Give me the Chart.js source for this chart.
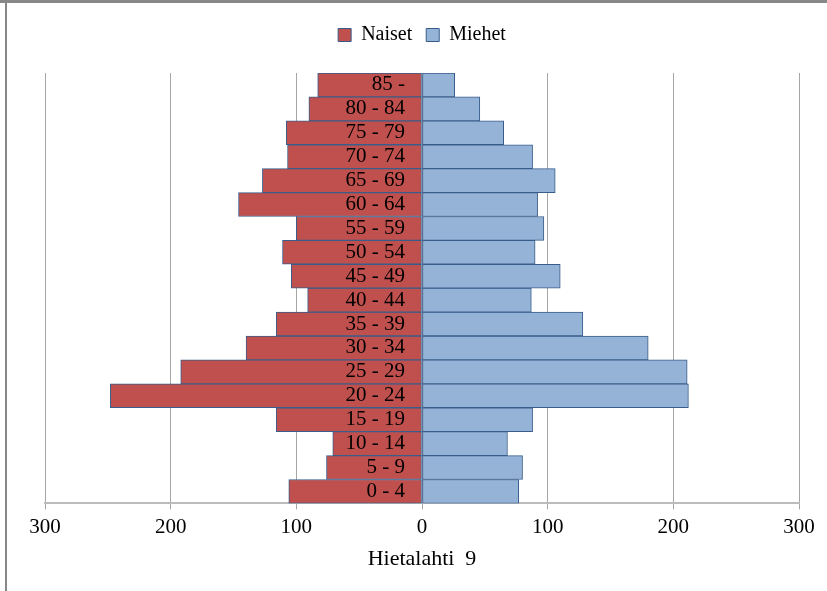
<!DOCTYPE html>
<html>
<head>
<meta charset="utf-8">
<script src="https://cdn.jsdelivr.net/npm/chart.js@4/dist/chart.umd.min.js"></script>
<style>
  html, body { margin: 0; padding: 0; background: #fff; }
  body { width: 827px; height: 591px; overflow: hidden; position: relative; }
  .frame-top { position: absolute; left: 0; top: 0; width: 827px; height: 3px; background: #888; }
  .frame-left { position: absolute; left: 5px; top: 0; width: 2px; height: 591px; background: #888; }
  #wrap { position: absolute; left: 7px; top: 3px; width: 820px; height: 588px; }
</style>
</head>
<body>
<div class="frame-top"></div>
<div class="frame-left"></div>
<div id="wrap"><canvas id="myChart"></canvas></div>
<script>
const ageGroups = ['0 - 4', '5 - 9', '10 - 14', '15 - 19', '20 - 24', '25 - 29', '30 - 34', '35 - 39',
  '40 - 44', '45 - 49', '50 - 54', '55 - 59', '60 - 64', '65 - 69', '70 - 74', '75 - 79', '80 - 84', '85 -'];
// women shown to the left, so the values are negated below
const naiset = [106, 76, 71, 116, 248, 192, 140, 116, 91, 104, 111, 100, 146, 127, 107, 108, 90, 83];
const miehet = [77, 80, 68, 88, 212, 211, 180, 128, 87, 110, 90, 97, 92, 106, 88, 65, 46, 26];
const xTicks = [-300, -200, -100, 0, 100, 200, 300];

const serif = '"Liberation Serif", "Times New Roman", serif';

// extra room between the legend and the plot
const legendGap = {
  id: 'legendGap',
  beforeInit(chart) {
    const fit = chart.legend.fit;
    chart.legend.fit = function () {
      fit.bind(chart.legend)();
      this.height += 18;
    };
  }
};

const data = {
  labels: ageGroups,
  datasets: [{
    label: 'Naiset',
    data: naiset.map(v => -v),
    backgroundColor: '#C0504D',
    borderColor: '#385D8A',
    borderWidth: 1,
    borderSkipped: false
  }, {
    label: 'Miehet',
    data: miehet,
    backgroundColor: '#95B3D7',
    borderColor: '#385D8A',
    borderWidth: 1,
    borderSkipped: false
  }]
}

const options = {
  indexAxis: 'y',
  responsive: false,
  animation: false,
  layout: { padding: { left: 38, right: 28, top: 8, bottom: 19 } },
  datasets: { bar: { barPercentage: 1, categoryPercentage: 1 } },
  scales: {
    x: {
      stacked: true,
      min: xTicks[0],
      max: xTicks[xTicks.length - 1],
      afterBuildTicks: scale => { scale.ticks = xTicks.map(v => ({ value: v })); },
      ticks: {
        callback: v => Math.abs(v),
        color: '#000',
        font: { family: serif, size: 21 },
        padding: 5,
        maxRotation: 0
      },
      grid: { color: '#a6a6a6', lineWidth: 1, tickLength: 6, z: -1 },
      border: { color: '#bcbcbc', width: 2 }
    },
    y: {
      stacked: true,
      reverse: true,
      position: { x: -13.5 },
      ticks: {
        color: '#000',
        font: { family: serif, size: 21 },
        autoSkip: false,
        z: 1
      },
      grid: { display: false, drawTicks: false },
      border: { display: false }
    }
  },
  plugins: {
    legend: {
      position: 'top',
      labels: {
        color: '#000',
        font: { family: serif, size: 20 },
        boxWidth: 13,
        boxHeight: 13,
        padding: 14
      }
    },
    title: {
      display: true,
      position: 'bottom',
      text: 'Hietalahti  9',
      color: '#000',
      font: { family: serif, size: 22, weight: 'normal' },
      padding: { top: 1, bottom: 0 }
    },
    tooltip: { enabled: false }
  }
}

const ctx = document.getElementById('myChart');
ctx.width = 820;
ctx.height = 588;
const myChart = new Chart(ctx, {
  type: 'bar',
  data: data,
  options: options,
  plugins: [legendGap]
});
</script>
</body>
</html>
